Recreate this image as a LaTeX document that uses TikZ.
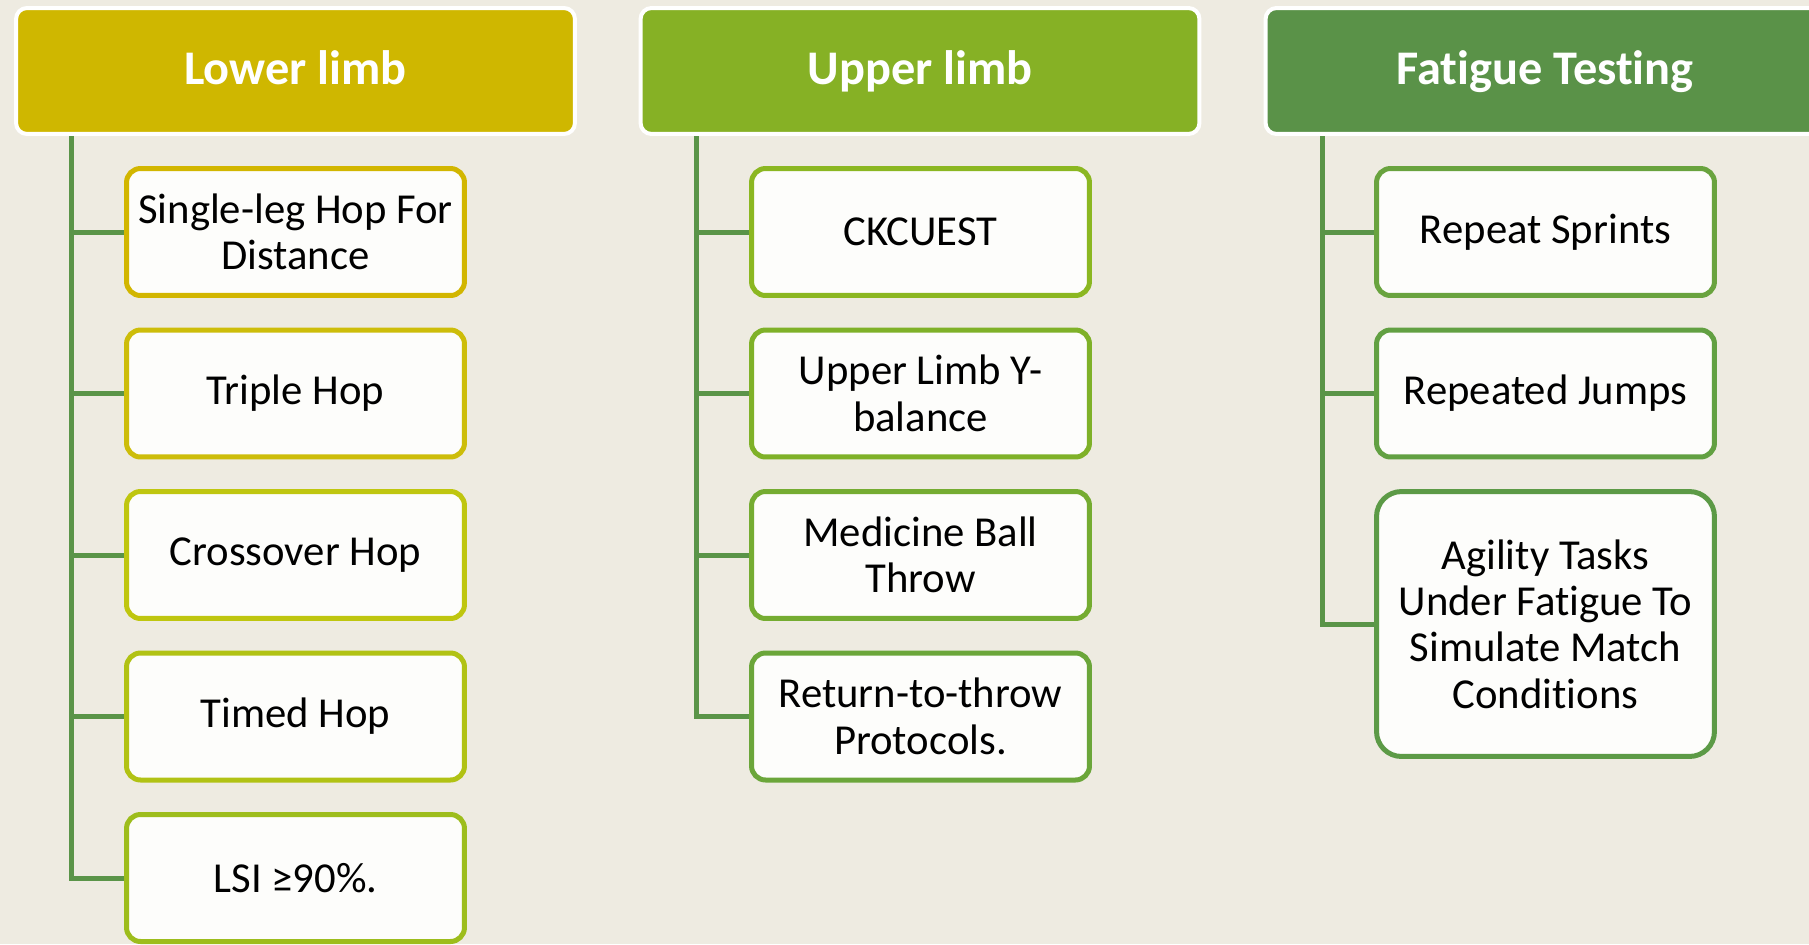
\documentclass[tikz,border=0pt]{standalone}
\usepackage{fontspec}
\setmainfont[Ligatures=NoCommon]{Carlito}
\usetikzlibrary{positioning}

\definecolor{bgcol}{HTML}{EEEBE1}
\definecolor{boxfill}{HTML}{FDFDFB}
\definecolor{linecol}{HTML}{5A9448}
\definecolor{hdrA}{HTML}{CFB700}
\definecolor{hdrB}{HTML}{86B125}
\definecolor{hdrC}{HTML}{5A9248}
\definecolor{bA1}{HTML}{D2B600}
\definecolor{bA2}{HTML}{CDBD0A}
\definecolor{bA3}{HTML}{BFC60F}
\definecolor{bA4}{HTML}{B1C214}
\definecolor{bA5}{HTML}{9DBD1C}
\definecolor{bB1}{HTML}{8BB721}
\definecolor{bB2}{HTML}{7FB128}
\definecolor{bB3}{HTML}{75AC31}
\definecolor{bB4}{HTML}{6BA63A}
\definecolor{bC1}{HTML}{69A33E}
\definecolor{bC2}{HTML}{62A042}
\definecolor{bC3}{HTML}{5C9A46}

\tikzset{
  head/.style={draw=white, line width=0.08cm, rounded corners=0.22cm,
    minimum width=11.18cm, minimum height=2.52cm, text=white,
    text height=0.71cm, text depth=0.18cm,
    font=\fontsize{27.5}{32}\selectfont\bfseries},
  item/.style={line width=0.1cm, fill=boxfill, rounded corners=0.28cm,
    minimum width=6.76cm, minimum height=2.54cm, align=center,
    font=\fontsize{24.3}{26.4}\selectfont},
  branch/.style={draw=linecol, line width=0.1cm},
}

\begin{document}
\begin{tikzpicture}[x=0.02cm, y=-0.02cm]
\clip (0,0) rectangle (1809,944);
\fill[bgcol] (0,0) rectangle (1809,944);

% Headers
\node[head, fill=hdrA] (hA) at (295.5,71) {Lower limb};
\node[head, fill=hdrB] (hB) at (920,71) {Upper limb};
\node[head, fill=hdrC] (hC) at (1545,71) {Fatigue Testing};

% Lower limb
\foreach \i/\txt in {1/{Single-leg Hop For\\Distance}, 2/Triple Hop, 3/Crossover Hop, 4/Timed Hop, 5/LSI ≥90\%.} {
   \node[item, draw=bA\i] (a\i) at (295.5, 70.5+161.5*\i) {\txt};
}
\coordinate (tA) at (71.5,136);
\draw[branch] (tA) |- (a5.west);
\foreach \i in {1,...,4} \draw[branch] (tA |- a\i.west) -- (a\i.west);

% Upper limb
\foreach \i/\txt in {1/CKCUEST, 2/{Upper Limb Y-\\balance}, 3/{Medicine Ball\\Throw}, 4/{Return-to-throw\\Protocols.}} {
   \node[item, draw=bB\i] (b\i) at (920.5, 70.5+161.5*\i) {\txt};
}
\coordinate (tB) at (696,136);
\draw[branch] (tB) |- (b4.west);
\foreach \i in {1,...,3} \draw[branch] (tB |- b\i.west) -- (b\i.west);

% Fatigue testing
\node[item, draw=bC1] (c1) at (1545.5,232) {Repeat Sprints};
\node[item, draw=bC2] (c2) at (1545.5,393.5) {Repeated Jumps};
\node[item, draw=bC3, minimum height=5.3cm, rounded corners=0.5cm] (c3) at (1545.5,624) {Agility Tasks\\Under Fatigue To\\Simulate Match\\Conditions};
\coordinate (tC) at (1322,136);
\draw[branch] (tC) |- (c3.west);
\draw[branch] (tC |- c1.west) -- (c1.west);
\draw[branch] (tC |- c2.west) -- (c2.west);
\end{tikzpicture}
\end{document}
